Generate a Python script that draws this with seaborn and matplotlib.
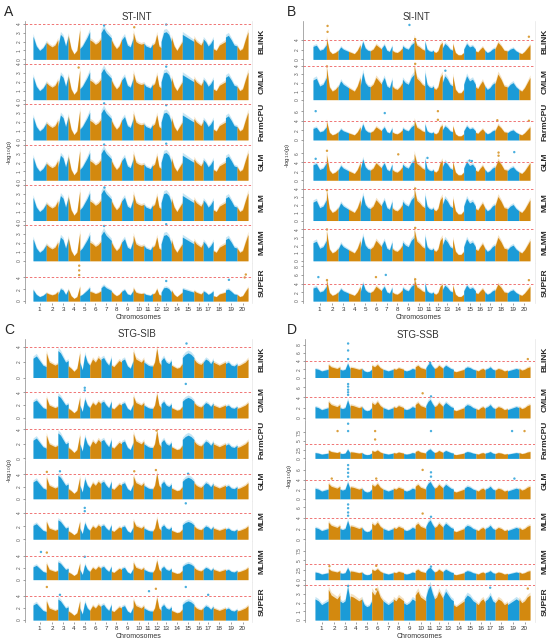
import numpy as np
import pandas as pd
import matplotlib
matplotlib.use("Agg")
import matplotlib.pyplot as plt
import seaborn as sns

sns.set_theme(style="white")
plt.rcParams['font.family'] = ['Liberation Sans', 'DejaVu Sans']

BLUE = "#1b9bd7"
ORANGE = "#d3890f"
RED = "#f07474"

methods = ["BLINK", "CMLM", "FarmCPU", "GLM", "MLM", "MLMM", "SUPER"]
chrom_names = [str(i) for i in range(1, 21)]
chrom_len = [40, 35, 31, 35, 30, 34, 31, 31, 35, 32, 26, 26, 31, 33, 35, 28, 30, 37, 35, 33]

# bulk -log10(p) envelope per chromosome (5 points along each chromosome), read by eye
prof_A = [[2.6, 1.5, 1.0, 1.3, 1.9], [1.9, 1.6, 1.4, 1.6, 2.2], [1.5, 2.8, 2.5, 1.5, 2.6],
          [2.7, 1.2, 0.6, 1.0, 3.3], [1.2, 1.5, 2.0, 2.5, 3.1], [2.2, 2.0, 1.7, 1.9, 2.3],
          [3.0, 3.5, 3.0, 2.7, 2.4], [2.2, 1.6, 1.2, 1.5, 2.2], [2.2, 2.6, 1.6, 1.4, 2.4],
          [3.0, 2.0, 1.8, 1.7, 1.8], [1.8, 1.5, 1.4, 1.3, 1.7], [1.6, 1.8, 2.8, 1.5, 1.3],
          [2.0, 3.0, 3.1, 2.8, 2.0], [2.5, 1.5, 1.0, 1.5, 2.0], [2.8, 2.6, 2.4, 2.2, 2.0],
          [2.4, 2.0, 1.8, 1.6, 2.1], [2.3, 2.0, 1.5, 1.8, 2.3], [1.2, 1.0, 1.6, 1.8, 2.0],
          [2.5, 2.7, 2.2, 1.6, 1.5], [1.5, 1.0, 1.2, 2.2, 3.1]]
prof_B = [[2.3, 2.5, 1.6, 1.8, 2.6], [3.8, 1.5, 1.0, 1.2, 1.6], [1.5, 2.2, 1.8, 1.6, 1.4],
          [1.4, 1.2, 1.0, 1.6, 2.6], [1.6, 3.2, 2.0, 1.6, 1.5], [1.5, 1.8, 2.6, 2.2, 1.8],
          [2.0, 2.6, 1.6, 1.4, 2.4], [1.6, 1.3, 1.2, 1.5, 2.0], [2.4, 2.0, 1.8, 2.6, 3.0],
          [4.0, 2.5, 2.2, 1.8, 1.6], [3.2, 1.8, 1.5, 1.4, 1.6], [1.4, 1.2, 1.5, 2.6, 3.0],
          [2.0, 2.8, 2.4, 1.8, 1.6], [2.8, 1.2, 0.8, 0.8, 1.2], [1.8, 2.8, 2.2, 2.4, 1.8],
          [1.5, 1.3, 1.8, 2.2, 1.6], [1.6, 1.2, 1.4, 1.8, 2.0], [1.8, 3.0, 2.4, 1.6, 1.5],
          [1.4, 1.8, 2.0, 1.5, 1.2], [1.2, 1.0, 1.4, 2.0, 2.6]]
prof_C = [[2.5, 2.8, 2.2, 1.6, 1.4], [3.2, 2.0, 1.8, 1.6, 1.8], [3.5, 3.2, 2.6, 2.0, 2.2],
          [1.5, 1.2, 0.8, 1.2, 3.2], [2.0, 1.0, 3.0, 2.0, 1.6], [1.6, 2.4, 2.0, 2.6, 2.2],
          [2.4, 2.6, 2.0, 1.6, 2.6], [1.6, 1.4, 1.8, 2.2, 2.0], [2.2, 2.4, 1.5, 1.2, 2.2],
          [3.4, 2.4, 2.2, 2.0, 2.4], [2.0, 1.8, 1.6, 1.5, 1.5], [1.4, 2.0, 3.8, 2.0, 1.6],
          [2.2, 2.6, 2.0, 1.8, 2.2], [1.6, 1.4, 1.2, 1.3, 1.8], [2.6, 3.0, 3.2, 3.0, 2.6],
          [2.4, 2.0, 1.8, 1.7, 2.0], [2.0, 2.4, 2.2, 1.8, 2.3], [2.0, 1.8, 1.6, 1.8, 2.0],
          [1.8, 2.0, 1.6, 1.5, 1.8], [1.5, 1.6, 1.8, 2.0, 2.4]]
prof_D = [[2.2, 2.0, 1.6, 1.8, 2.0], [3.2, 2.6, 2.4, 2.2, 2.6], [2.0, 1.8, 2.0, 3.5, 2.0],
          [2.5, 2.4, 2.2, 2.0, 2.2], [2.2, 1.6, 1.4, 1.5, 2.0], [3.0, 2.6, 3.2, 2.4, 2.0],
          [2.0, 1.8, 1.6, 1.8, 2.0], [2.2, 2.0, 2.4, 2.2, 2.0], [1.8, 1.6, 1.8, 2.2, 2.0],
          [2.6, 3.0, 2.4, 2.2, 2.0], [2.4, 3.2, 3.6, 2.8, 2.2], [2.2, 2.4, 3.0, 2.6, 2.2],
          [2.4, 3.0, 2.6, 2.2, 2.0], [1.6, 1.4, 1.6, 1.8, 2.0], [2.2, 2.6, 2.4, 2.0, 1.8],
          [1.8, 1.6, 2.0, 2.2, 1.8], [2.0, 2.2, 2.6, 2.0, 1.8], [1.8, 2.2, 2.0, 1.6, 1.8],
          [1.6, 1.8, 2.0, 2.2, 2.0], [2.2, 1.8, 2.0, 2.4, 2.6]]

# per-method scale of the bulk, y-axis top and ticks
scale_A = [1.0, 1.0, 1.0, 1.0, 1.0, 0.95, 0.75]
ymax_A = [4.3, 4.3, 4.3, 4.3, 4.3, 4.3, 6.5]
ticks_A = [[0, 1, 2, 3, 4]] * 6 + [[0, 2, 4]]
scale_B = [1.15, 1.0, 1.05, 1.5, 1.0, 1.0, 1.3]
ymax_B = [7.8, 4.5, 8.0, 8.6, 4.8, 4.9, 8.8]
ticks_B = [[0, 2, 4], [0, 1, 2, 3, 4], [0, 2, 4, 6], [0, 2, 4, 6], [0, 1, 2, 3, 4], [0, 1, 2, 3, 4], [0, 2, 4, 6, 8]]
scale_C = [1.0, 1.0, 1.0, 1.1, 0.85, 0.85, 1.0]
ymax_C = [5.0, 6.0, 5.3, 6.3, 5.9, 6.4, 6.4]
ticks_C = [[0, 2, 4]] * 7
scale_D = [1.0, 1.0, 0.75, 1.0, 1.0, 0.9, 1.1]
ymax_D = [9.4, 7.5, 11.0, 8.0, 7.2, 10.0, 4.4]
ticks_D = [[0, 2, 4, 6, 8], [0, 2, 4, 6], [0, 2.5, 5, 7.5], [0, 2, 4, 6], [0, 2, 4, 6], [0, 2.5, 5, 7.5], [0, 1, 2, 3, 4]]
threshold = 4

# strong single SNP hits: (method, chromosome, position within chromosome, -log10 p)
hits_A = [("BLINK", 7, 0.3, 3.8), ("BLINK", 13, 0.5, 3.9), ("BLINK", 10, 0.1, 3.6),
          ("CMLM", 4, 0.9, 3.6), ("CMLM", 13, 0.5, 3.7), ("FarmCPU", 7, 0.3, 4.1),
          ("FarmCPU", 13, 0.5, 3.9), ("GLM", 7, 0.3, 4.0), ("GLM", 13, 0.5, 4.1),
          ("MLM", 7, 0.3, 3.8), ("MLMM", 13, 0.5, 4.1), ("MLMM", 7, 0.3, 3.9),
          ("SUPER", 4, 0.95, 6.0), ("SUPER", 4, 0.95, 5.2), ("SUPER", 4, 0.95, 4.4),
          ("SUPER", 13, 0.5, 3.4), ("SUPER", 20, 0.8, 4.5), ("SUPER", 20, 0.7, 4.0),
          ("SUPER", 19, 0.3, 3.6)]
hits_B = [("BLINK", 2, 0.1, 6.8), ("BLINK", 2, 0.1, 5.6), ("BLINK", 9, 0.6, 7.0),
          ("BLINK", 10, 0.1, 4.1), ("BLINK", 20, 0.9, 4.6), ("CMLM", 10, 0.1, 4.2),
          ("CMLM", 2, 0.05, 3.9), ("CMLM", 13, 0.3, 3.4), ("FarmCPU", 1, 0.2, 6.0),
          ("FarmCPU", 7, 0.3, 5.6), ("FarmCPU", 12, 0.5, 6.0), ("FarmCPU", 12, 0.5, 4.2),
          ("FarmCPU", 18, 0.2, 4.1), ("FarmCPU", 20, 0.9, 4.0), ("GLM", 2, 0.05, 6.6),
          ("GLM", 1, 0.2, 4.8), ("GLM", 8, 0.6, 5.8), ("GLM", 11, 0.3, 5.0),
          ("GLM", 15, 0.5, 4.4), ("GLM", 15, 0.7, 4.3), ("GLM", 18, 0.3, 5.5),
          ("GLM", 18, 0.3, 6.2), ("GLM", 19, 0.6, 6.3), ("MLM", 10, 0.1, 4.0),
          ("MLM", 2, 0.05, 3.8), ("MLMM", 2, 0.05, 4.0), ("MLMM", 10, 0.1, 4.2),
          ("SUPER", 1, 0.4, 5.5), ("SUPER", 2, 0.05, 4.8), ("SUPER", 6, 0.5, 5.5),
          ("SUPER", 7, 0.4, 6.0), ("SUPER", 10, 0.1, 5.0), ("SUPER", 20, 0.9, 4.8)]
hits_C = [("BLINK", 15, 0.3, 4.5), ("CMLM", 5, 0.5, 4.7), ("CMLM", 5, 0.5, 4.3),
          ("CMLM", 15, 0.3, 5.3), ("FarmCPU", 12, 0.4, 3.9), ("GLM", 2, 0.05, 4.4),
          ("GLM", 3, 0.2, 4.5), ("GLM", 10, 0.1, 4.5), ("GLM", 12, 0.4, 4.7),
          ("GLM", 15, 0.5, 4.1), ("MLM", 5, 0.5, 4.3), ("MLM", 5, 0.5, 4.8),
          ("MLM", 15, 0.3, 5.5), ("MLMM", 1, 0.6, 4.6), ("MLMM", 2, 0.05, 4.5),
          ("MLMM", 5, 0.5, 3.8), ("SUPER", 2, 0.05, 5.5), ("SUPER", 3, 0.2, 4.2),
          ("SUPER", 11, 0.6, 4.8), ("SUPER", 12, 0.4, 5.2), ("SUPER", 15, 0.3, 5.5),
          ("SUPER", 17, 0.5, 4.2)]
hits_D = [("BLINK", 3, 0.8, 8.3), ("BLINK", 3, 0.8, 6.6), ("BLINK", 3, 0.8, 4.5),
          ("BLINK", 20, 0.8, 4.5), ("BLINK", 11, 0.5, 3.6), ("CMLM", 3, 0.8, 6.6),
          ("CMLM", 3, 0.8, 6.1), ("CMLM", 3, 0.8, 5.5), ("CMLM", 3, 0.8, 5.0),
          ("CMLM", 3, 0.8, 4.5), ("CMLM", 10, 0.7, 4.8), ("CMLM", 11, 0.6, 4.2),
          ("FarmCPU", 3, 0.8, 9.9), ("FarmCPU", 2, 0.8, 7.8), ("FarmCPU", 3, 0.8, 7.8),
          ("FarmCPU", 6, 0.3, 7.8), ("FarmCPU", 6, 0.3, 5.4), ("FarmCPU", 11, 0.6, 7.8),
          ("FarmCPU", 19, 0.4, 7.8), ("FarmCPU", 20, 0.5, 7.8), ("GLM", 3, 0.8, 7.0),
          ("GLM", 3, 0.8, 6.2), ("GLM", 3, 0.8, 5.4), ("GLM", 3, 0.8, 4.6),
          ("GLM", 10, 0.7, 6.0), ("GLM", 11, 0.6, 5.5), ("GLM", 11, 0.6, 4.6),
          ("GLM", 2, 0.3, 4.2), ("GLM", 6, 0.4, 4.2), ("GLM", 19, 0.6, 4.2),
          ("MLM", 3, 0.8, 6.5), ("MLM", 3, 0.8, 5.8), ("MLM", 3, 0.8, 5.0),
          ("MLM", 3, 0.8, 4.4), ("MLM", 10, 0.7, 4.8), ("MLM", 11, 0.6, 4.2),
          ("MLMM", 2, 0.1, 3.5), ("MLMM", 6, 0.4, 3.6), ("MLMM", 11, 0.6, 3.4),
          ("SUPER", 3, 0.8, 3.9), ("SUPER", 17, 0.5, 3.7), ("SUPER", 20, 0.8, 3.6),
          ("SUPER", 6, 0.4, 3.5)]

W, H = 550, 640
fig = plt.figure(figsize=(W / 100, H / 100), dpi=100)


def box(x0, y0, x1, y1):
    return [x0 / W, 1 - y1 / H, (x1 - x0) / W, (y1 - y0) / H]


starts = np.concatenate([[0], np.cumsum(chrom_len)[:-1]])
mids = starts + np.array(chrom_len) / 2
total = sum(chrom_len)
frac = np.array([0, 0.25, 0.5, 0.75, 1.0])


def draw_panel(letter, title, prof, scales, ymaxs, ticks, hits, ax_x, data_x, rows_y, title_y, letter_xy, ylab_y):
    x0, x1 = ax_x
    d0, d1 = data_x
    per = total / (d1 - d0)
    xlim = (-(d0 - x0) * per, total + (x1 - d1) * per)
    top, bottom = rows_y
    rh = (bottom - top) / len(methods)
    hit_df = pd.DataFrame(hits, columns=["method", "chrom", "pos", "logp"])
    hit_df["x"] = starts[hit_df["chrom"] - 1] + hit_df["pos"] * np.array(chrom_len)[hit_df["chrom"] - 1]
    hit_df["odd"] = (hit_df["chrom"] % 2 == 1)
    for i, m in enumerate(methods):
        ax = fig.add_axes(box(x0, top + i * rh, x1, top + (i + 1) * rh))
        for c in range(20):
            col = BLUE if c % 2 == 0 else ORANGE
            xs = starts[c] + frac * chrom_len[c]
            ys = np.array(prof[c]) * scales[i]
            ax.fill_between(xs, 0, ys * 1.12, color=col, alpha=0.25, lw=0)
            ax.fill_between(xs, 0, ys, color=col, lw=0)
        sub = hit_df[hit_df["method"] == m]
        if len(sub):
            sns.scatterplot(data=sub, x="x", y="logp", hue="odd", palette={True: BLUE, False: ORANGE},
                            s=3, linewidth=0, legend=False, ax=ax, alpha=0.8)
        ax.axhline(threshold, color=RED, ls=(0, (2.5, 2)), lw=0.7)
        ax.set_xlim(*xlim)
        ax.set_ylim(-0.05 * ymaxs[i], ymaxs[i])
        ax.set_yticks(ticks[i])
        ax.set_yticklabels([f"{t:g}" for t in ticks[i]], rotation=90, fontsize=3.5, va="center", color="#555555")
        ax.tick_params(axis="y", length=1.5, width=0.4, pad=1, colors="#555555", left=True)
        ax.set_xlabel("")
        ax.set_ylabel("")
        for s in ["top", "bottom"]:
            ax.spines[s].set_visible(False)
        ax.spines["left"].set_color("#888888")
        ax.spines["left"].set_linewidth(0.5)
        ax.spines["right"].set_color("#e6e6e6")
        ax.spines["right"].set_linewidth(0.5)
        if i == len(methods) - 1:
            ax.set_xticks(mids)
            ax.set_xticklabels(chrom_names, fontsize=4.5)
            ax.tick_params(axis="x", length=1.5, width=0.4, pad=1.5, bottom=True, colors="#555555")
            for lab in ax.get_xticklabels():
                lab.set_color("#333333")
            ax.set_xlabel("Chromosomes", fontsize=5, labelpad=1, color="#333333")
        else:
            ax.set_xticks([])
        fig.text((x1 + 10) / W, 1 - (top + (i + 0.5) * rh) / H, m, rotation=90, ha="center", va="center",
                 fontsize=6, fontweight="bold")
    fig.text((x0 + d1) / 2 / W, 1 - title_y / H, title, ha="center", va="center", fontsize=7, color="#333333")
    fig.text((x0 - 15) / W, 1 - ylab_y / H, "-log$_{10}$(p)", rotation=90, ha="center", va="center",
             fontsize=4.5, color="#333333")
    fig.text(letter_xy[0] / W, 1 - letter_xy[1] / H, letter, ha="left", va="center", fontsize=10)


draw_panel("A", "ST-INT", prof_A, scale_A, ymax_A, ticks_A, hits_A, (25, 252), (33, 248), (21, 303), 17, (4, 12), 152)
draw_panel("B", "SI-INT", prof_B, scale_B, ymax_B, ticks_B, hits_B, (303, 535), (313, 530), (21, 303), 17, (287, 12), 155)
draw_panel("C", "STG-SIB", prof_C, scale_C, ymax_C, ticks_C, hits_C, (25, 252), (33, 248), (339, 622), 334, (4, 330), 470)
draw_panel("D", "STG-SSB", prof_D, scale_D, ymax_D, ticks_D, hits_D, (305, 535), (315, 530), (339, 622), 335, (287, 330), 476)

fig.savefig("out.png", dpi=100)
